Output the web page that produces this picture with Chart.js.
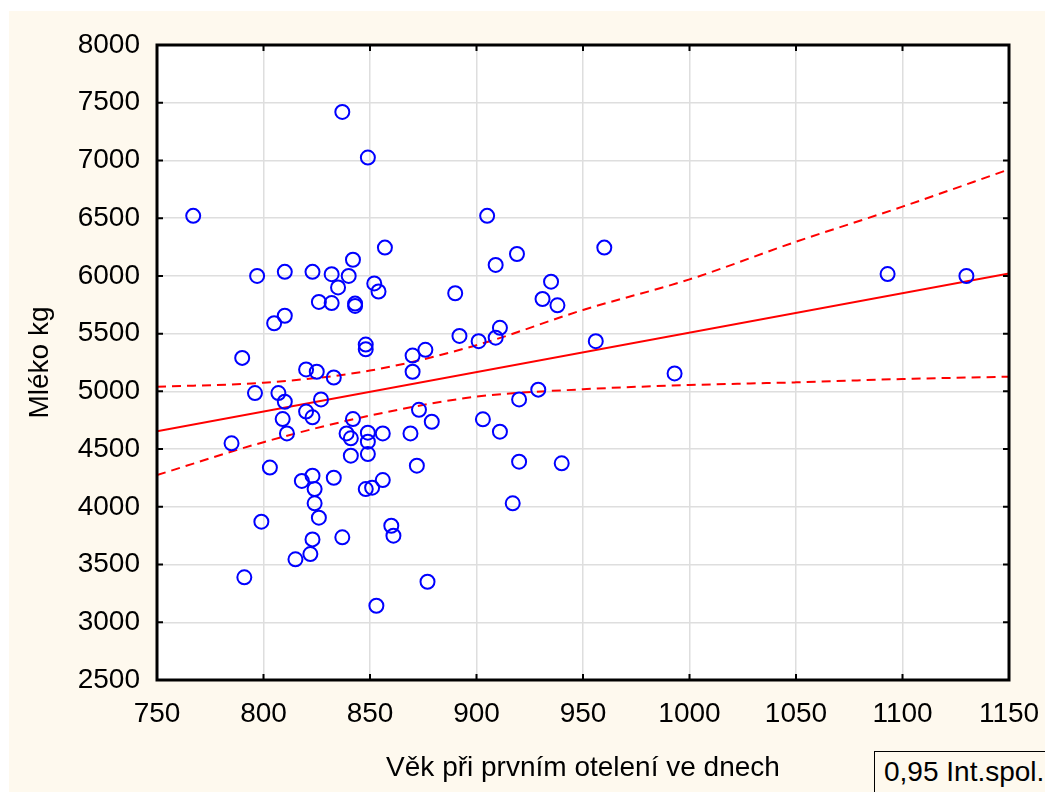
<!DOCTYPE html>
<html>
<head>
<meta charset="utf-8">
<script src="https://cdn.jsdelivr.net/npm/chart.js@4/dist/chart.umd.min.js"></script>
<style>
  html, body { margin: 0; padding: 0; background: #fff; overflow: hidden; }
  #wrap { position: relative; width: 1045px; height: 792px; }
  #legendBox {
    position: absolute; left: 874px; top: 751px; width: 220px; height: 60px;
    border: 1.5px solid #000; background: #fef9ee; box-sizing: border-box;
    font: 28px "Liberation Sans", Arial, sans-serif; color: #000;
    padding: 4px 0 0 9px; white-space: nowrap;
  }
</style>
</head>
<body>
<div id="wrap">
  <canvas id="chart" width="1045" height="792"></canvas>
  <div id="legendBox">0,95 Int.spol.</div>
</div>
<script>
// Věk při prvním otelení (dny) a mléko (kg)
const vek = [
  767, 837, 849, 905, 960, 857, 842, 919, 909, 797,
  810, 823, 832, 840, 835, 852, 854, 890, 935, 931,
  938, 826, 832, 843, 843, 805, 810, 911, 892, 901,
  909, 956, 848, 848, 876, 870, 790, 870, 820, 825,
  833, 993, 929, 920, 796, 807, 810, 827, 820, 823,
  809, 842, 873, 879, 903, 911, 811, 839, 841, 849,
  849, 856, 869, 785, 841, 849, 872, 803, 818, 823,
  833, 824, 848, 851, 856, 920, 940, 917, 824, 826,
  799, 860, 861, 837, 823, 822, 815, 791, 877, 853,
  1093, 1130
];
const mleko = [
  6520, 7420, 7025, 6520, 6245, 6245, 6140, 6190, 6095, 6000,
  6035, 6035, 6015, 6000, 5900, 5935, 5865, 5850, 5950, 5800,
  5745, 5775, 5765, 5760, 5740, 5590, 5655, 5550, 5480, 5435,
  5465, 5435, 5405, 5365, 5360, 5310, 5290, 5170, 5190, 5170,
  5120, 5155, 5015, 4930, 4985, 4985, 4910, 4930, 4825, 4775,
  4760, 4760, 4840, 4737, 4758, 4651, 4636, 4636, 4593, 4642,
  4564, 4636, 4636, 4550, 4443, 4457, 4356, 4340, 4224, 4270,
  4252, 4154, 4154, 4166, 4232, 4391, 4377, 4030, 4030, 3906,
  3871, 3836, 3750, 3736, 3718, 3591, 3545, 3389, 3351, 3143,
  6016, 5999
];

// regresní přímka
const primkaX = [750, 1150];
const primkaY = [4655, 6020];

// 0,95 interval spolehlivosti
const pasX = [750, 800, 850, 900, 950, 1000, 1050, 1100, 1150];
const pasHorni = [5040, 5075, 5180, 5400, 5705, 5970, 6296, 6600, 6923];
const pasDolni = [4275, 4560, 4790, 4954, 5018, 5055, 5078, 5107, 5127];

const xTicks = [750, 800, 850, 900, 950, 1000, 1050, 1100, 1150];
const yTicks = [2500, 3000, 3500, 4000, 4500, 5000, 5500, 6000, 6500, 7000, 7500, 8000];

const FONT = '"Liberation Sans", Arial, sans-serif';
const CREAM = '#fef9ee';

function toPoints(xs, ys) {
  return xs.map((x, i) => ({ x: x, y: ys[i] }));
}

// background: white border, cream page, white plot area
const backgroundPlugin = {
  id: 'background',
  beforeDraw(chart) {
    const ctx = chart.ctx;
    const a = chart.chartArea;
    ctx.save();
    ctx.fillStyle = '#ffffff';
    ctx.fillRect(0, 0, chart.width, chart.height);
    ctx.fillStyle = CREAM;
    ctx.fillRect(9, 11, chart.width - 9, chart.height - 11);
    ctx.fillStyle = '#ffffff';
    ctx.fillRect(a.left, a.top, a.right - a.left, a.bottom - a.top);
    ctx.restore();
  }
};

// frame with inward tick marks on all four sides
const framePlugin = {
  id: 'frame',
  afterDraw(chart) {
    const ctx = chart.ctx;
    const a = chart.chartArea;
    const xs = chart.scales.x;
    const ys = chart.scales.y;
    const len = 6;
    ctx.save();
    ctx.strokeStyle = '#000';
    ctx.lineWidth = 2;
    ctx.beginPath();
    xTicks.forEach(v => {
      const px = xs.getPixelForValue(v);
      ctx.moveTo(px, a.top); ctx.lineTo(px, a.top + len);
      ctx.moveTo(px, a.bottom); ctx.lineTo(px, a.bottom - len);
    });
    yTicks.forEach(v => {
      const py = ys.getPixelForValue(v);
      ctx.moveTo(a.left, py); ctx.lineTo(a.left + len, py);
      ctx.moveTo(a.right, py); ctx.lineTo(a.right - len, py);
    });
    ctx.stroke();
    ctx.lineWidth = 3;
    ctx.strokeRect(a.left, a.top, a.right - a.left, a.bottom - a.top);
    ctx.restore();
  }
};

new Chart(document.getElementById('chart'), {
  type: 'scatter',
  data: {
    datasets: [
      {
        label: 'Mléko kg',
        data: toPoints(vek, mleko),
        pointStyle: 'circle',
        pointRadius: 7,
        pointBorderWidth: 2,
        borderColor: '#0000ff',
        backgroundColor: 'rgba(0,0,0,0)',
        showLine: false
      },
      {
        label: 'Regrese',
        type: 'line',
        data: toPoints(primkaX, primkaY),
        borderColor: '#ff0000',
        borderWidth: 2,
        pointRadius: 0,
        fill: false
      },
      {
        label: '0,95 Int.spol.',
        type: 'line',
        data: toPoints(pasX, pasHorni),
        borderColor: '#ff0000',
        borderWidth: 2,
        borderDash: [9, 6],
        pointRadius: 0,
        cubicInterpolationMode: 'monotone',
        fill: false
      },
      {
        label: '0,95 Int.spol. dolni',
        type: 'line',
        data: toPoints(pasX, pasDolni),
        borderColor: '#ff0000',
        borderWidth: 2,
        borderDash: [9, 6],
        pointRadius: 0,
        cubicInterpolationMode: 'monotone',
        fill: false
      }
    ]
  },
  options: {
    responsive: false,
    animation: false,
    devicePixelRatio: 1,
    layout: { padding: { left: 0, top: 45, right: 36, bottom: 0 } },
    plugins: {
      legend: { display: false },
      tooltip: { enabled: false }
    },
    scales: {
      x: {
        type: 'linear',
        min: 750,
        max: 1150,
        afterFit(scale) {
          scale.height = 112;
          scale.paddingLeft = 0;
          scale.paddingRight = 0;
        },
        afterBuildTicks(scale) { scale.ticks = xTicks.map(v => ({ value: v })); },
        ticks: {
          color: '#000',
          font: { family: FONT, size: 28 },
          padding: 17,
          maxRotation: 0,
          callback: v => String(v)
        },
        grid: { color: '#dedede', lineWidth: 1.5, drawTicks: false },
        border: { display: false },
        title: {
          display: true,
          text: 'Věk při prvním otelení ve dnech',
          color: '#000',
          font: { family: FONT, size: 28 },
          padding: { top: 0, bottom: 7 }
        }
      },
      y: {
        type: 'linear',
        min: 2500,
        max: 8000,
        afterFit(scale) {
          scale.width = 157;
          scale.paddingTop = 0;
          scale.paddingBottom = 0;
        },
        afterBuildTicks(scale) { scale.ticks = yTicks.map(v => ({ value: v })); },
        ticks: {
          color: '#000',
          font: { family: FONT, size: 28 },
          padding: 17,
          callback: v => String(v)
        },
        grid: { color: '#dedede', lineWidth: 1.5, drawTicks: false },
        border: { display: false },
        title: {
          display: true,
          text: 'Mléko kg',
          color: '#000',
          font: { family: FONT, size: 28 },
          padding: { top: 23, bottom: 0 }
        }
      }
    }
  },
  plugins: [backgroundPlugin, framePlugin]
});
</script>
</body>
</html>
